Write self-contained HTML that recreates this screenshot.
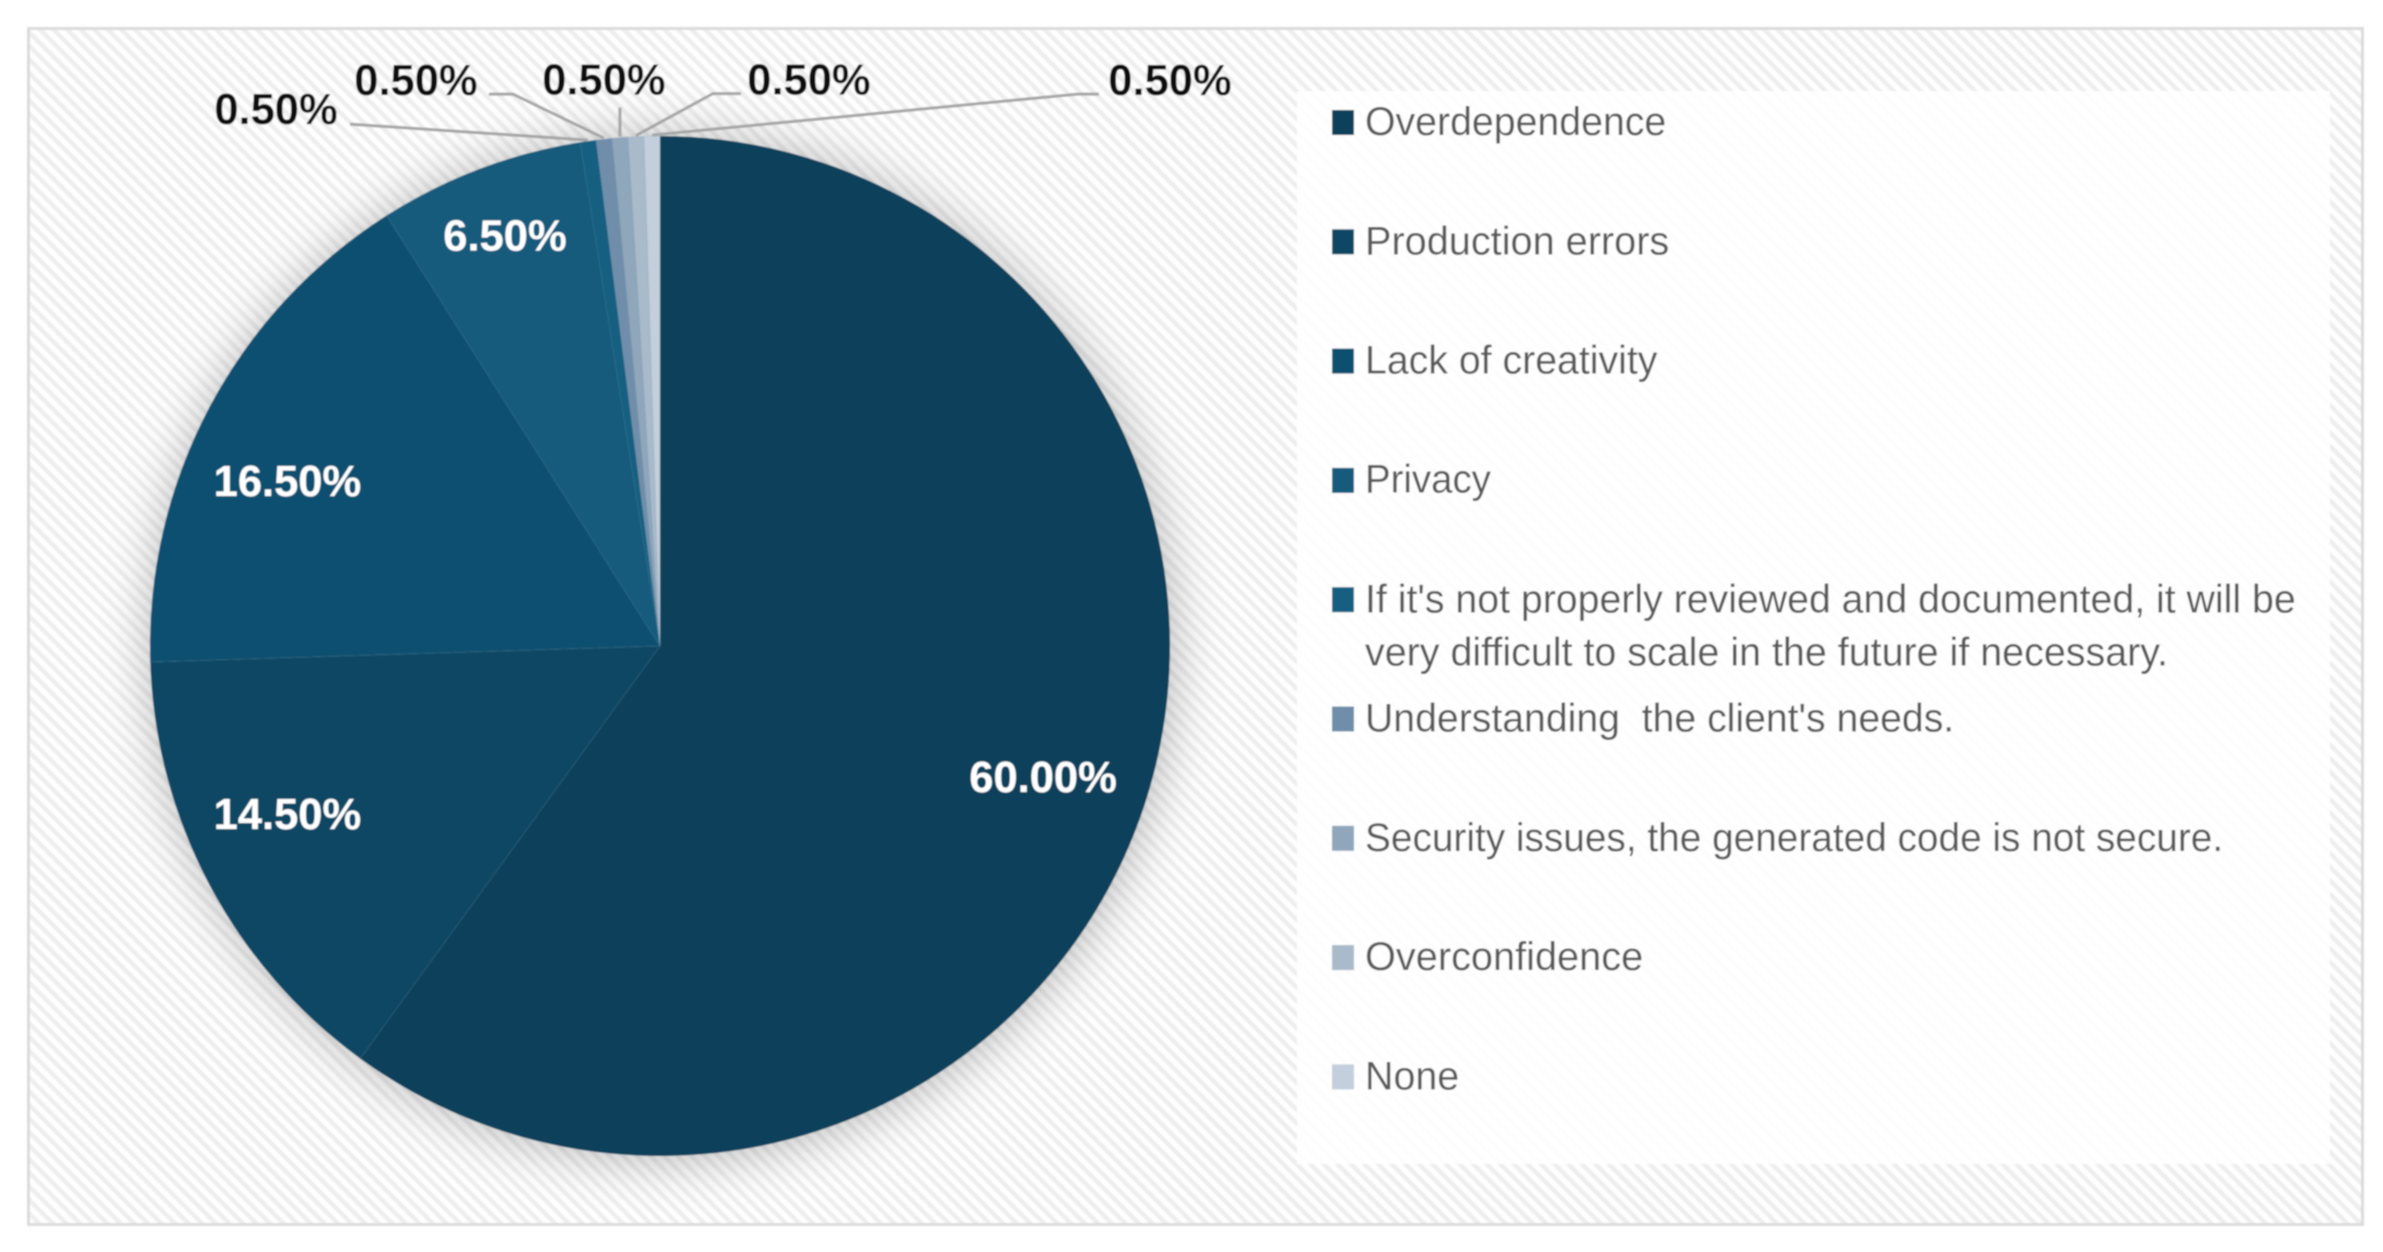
<!DOCTYPE html>
<html lang="en">
<head>
<meta charset="utf-8">
<title>Pie chart of perceived risks</title>
<style>
html,body{margin:0;padding:0;background:#fff;width:2383px;height:1252px;overflow:hidden}
svg{display:block}
text{font-family:"Liberation Sans",Arial,sans-serif;white-space:pre}
</style>
</head>
<body>
<svg id="chart" xmlns="http://www.w3.org/2000/svg" width="2383" height="1252" viewBox="0 0 2383 1252">
  <defs>
    <pattern id="stripes" patternUnits="userSpaceOnUse" width="9.6" height="9.6" patternTransform="rotate(45)">
      <rect width="9.6" height="9.6" fill="#fefefe"/>
      <rect y="0" width="9.6" height="4.4" fill="#eeeeee"/>
    </pattern>
    <filter id="soft" x="-2%" y="-2%" width="104%" height="104%"><feGaussianBlur stdDeviation="0.9"/></filter>
    <filter id="shadow" x="-20%" y="-20%" width="140%" height="140%"><feGaussianBlur stdDeviation="24"/></filter>
  </defs>
  <g id="root" filter="url(#soft)">
    <rect x="28.5" y="28.5" width="2334" height="1196" fill="url(#stripes)" stroke="#dcdcdc" stroke-width="3"/>
    <rect x="1297" y="91" width="1033" height="1073" fill="#ffffff" fill-opacity="0.88"/>
    <circle id="pie-shadow" cx="662" cy="648" r="512" fill="#000" fill-opacity="0.26" filter="url(#shadow)"/>
    <g id="slices"></g>
    <g id="leaders"></g>
    <g id="labels"></g>
    <g id="legend"></g>
  </g>
</svg>
<script>
const categories = ["Overdependence", "Production errors", "Lack of creativity", "Privacy", "If it's not properly reviewed and documented, it will be", "Understanding  the client's needs.", "Security issues, the generated code is not secure.", "Overconfidence", "None"];
const legendContinuation = ["", "", "", "", "very difficult to scale in the future if necessary.", "", "", "", ""];
const shareValues = [60, 14.5, 16.5, 6.5, 0.5, 0.5, 0.5, 0.5, 0.5];
const sliceColors = ["#0c3f5a", "#0f4764", "#104f6f", "#125a7c", "#135e80", "#6f8eaa", "#8fa6bb", "#a9bacb", "#c3cfdc"];

const NS = "http://www.w3.org/2000/svg";
const CX = 660, CY = 646, R = 510;
const total = shareValues.reduce(function (a, b) { return a + b; }, 0);
const angleOf = function (cum) { return cum / total * Math.PI * 2; };
const polar = function (a, r) { return [CX + r * Math.sin(a), CY - r * Math.cos(a)]; };
const make = function (tag) { return document.createElementNS(NS, tag); };

/* Layout nudges for inside labels, relative to their radial position */
const insideNudge = [[-5, 6], [-12, -22], [-12, 27], [0, 1]];
/* Layout for the small outside labels, relative to the slice's edge point */
const outsideLayout = [
  { label: [-312, -30], line: [[-238, -16]] },
  { label: [-188, -57], line: [[-115, -44], [-91, -44]] },
  { label: [-16, -56], line: [[0, -29]] },
  { label: [173, -55], line: [[105, -42], [77, -42]] },
  { label: [518, -54], line: [[447, -41], [426, -41]] }
];
const legendStartY = 122, legendRowStep = 119.3, legendWrapStep = 53;
const legendWidthScale = [0.982, 0.992, 0.982, 0.96, 0.982, 0.98, 0.97, 0.993, 0.985];
const legendWrapScale = 0.986;

const slicesG = document.getElementById("slices");
const leadersG = document.getElementById("leaders");
const labelsG = document.getElementById("labels");
const legendG = document.getElementById("legend");

let cum = 0, outsideIndex = 0, insideIndex = 0;
shareValues.forEach(function (v, i) {
  const a0 = angleOf(cum), a1 = angleOf(cum + v), mid = (a0 + a1) / 2;
  cum += v;
  const p0 = polar(a0, R), p1 = polar(a1, R);
  const path = make("path");
  path.setAttribute("d", "M" + CX + " " + CY + "L" + p0[0] + " " + p0[1] + "A" + R + " " + R + " 0 " + (a1 - a0 > Math.PI ? 1 : 0) + " 1 " + p1[0] + " " + p1[1] + "Z");
  path.setAttribute("fill", sliceColors[i]);
  path.setAttribute("stroke", "#5f94ae");
  path.setAttribute("stroke-opacity", "0.08");
  path.setAttribute("stroke-width", "1.6");
  
  
  slicesG.appendChild(path);

  const txt = make("text");
  txt.textContent = v.toFixed(2) + "%";
  txt.setAttribute("font-size", "43.5");
  txt.setAttribute("font-weight", "700");
  txt.setAttribute("text-anchor", "middle");
  txt.setAttribute("dominant-baseline", "central");
  
  
  if (v >= 2) {
    const nudge = insideNudge[insideIndex % insideNudge.length];
    insideIndex += 1;
    const lp = polar(mid, R * (v < 10 ? 0.86 : 0.8));
    txt.setAttribute("x", lp[0] + nudge[0]);
    txt.setAttribute("y", lp[1] + nudge[1]);
    txt.setAttribute("fill", "#ffffff");
  } else {
    const layout = outsideLayout[outsideIndex % outsideLayout.length];
    outsideIndex += 1;
    const edge = polar(mid, R + 1);
    txt.setAttribute("x", edge[0] + layout.label[0]);
    txt.setAttribute("y", edge[1] + layout.label[1]);
    txt.setAttribute("fill", "#0d0d0d");
    const pts = layout.line.map(function (o) { return (edge[0] + o[0]) + "," + (edge[1] + o[1]); });
    pts.push(edge[0] + "," + edge[1]);
    const line = make("polyline");
    line.setAttribute("points", pts.join(" "));
    line.setAttribute("fill", "none");
    line.setAttribute("stroke", "#a6a6a6");
    line.setAttribute("stroke-width", "3");
    
    
    leadersG.appendChild(line);
  }
  labelsG.appendChild(txt);
});

categories.forEach(function (name, i) {
  const y = legendStartY + i * legendRowStep;
  const sw = make("rect");
  sw.setAttribute("x", 1332);
  sw.setAttribute("y", y - 12);
  sw.setAttribute("width", 22);
  sw.setAttribute("height", 25);
  sw.setAttribute("fill", sliceColors[i]);
  
  
  legendG.appendChild(sw);

  const t = make("text");
  t.textContent = name;
  t.setAttribute("transform", "translate(1365 " + y + ") scale(" + legendWidthScale[i] + " 1)");
  t.setAttribute("font-size", "40");
  t.setAttribute("fill", "#595959");
  t.setAttribute("dominant-baseline", "central");
  
  
  legendG.appendChild(t);

  if (legendContinuation[i]) {
    const t2 = make("text");
    t2.textContent = legendContinuation[i];
    t2.setAttribute("transform", "translate(1365 " + (y + legendWrapStep) + ") scale(" + legendWrapScale + " 1)");
    t2.setAttribute("font-size", "40");
    t2.setAttribute("fill", "#595959");
    t2.setAttribute("dominant-baseline", "central");
    
    
    legendG.appendChild(t2);
  }
});
</script>
</body>
</html>
